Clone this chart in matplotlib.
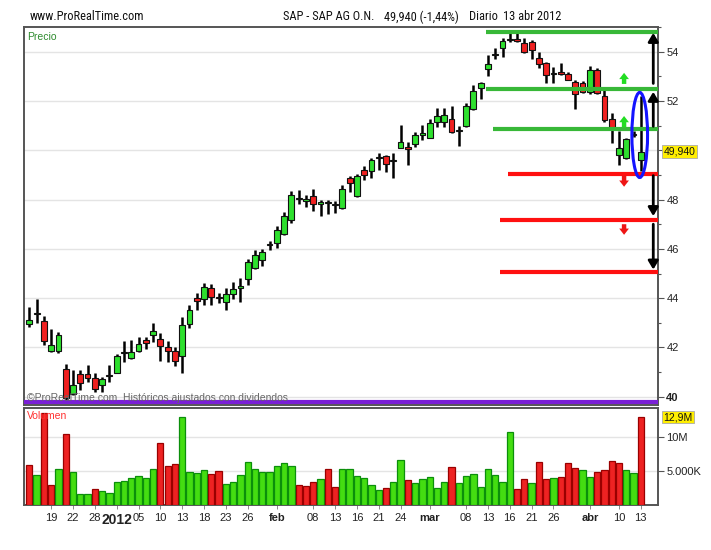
import matplotlib
matplotlib.use('Agg')
import matplotlib.pyplot as plt
from matplotlib import font_manager
from matplotlib.patches import Ellipse
import numpy as np

ttf = font_manager.fontManager.ttflist
names = {f.name for f in ttf}
BASE = 'Liberation Sans' if 'Liberation Sans' in names else 'DejaVu Sans'
NARROW = None
for cand in ['Liberation Sans Narrow', 'Arial Narrow', 'Roboto Condensed',
             'Open Sans Condensed', 'DejaVu Sans Condensed']:
    if cand in names:
        NARROW = cand
        break
NARROW_STRETCH = 'normal'
if NARROW is None:
    for f in ttf:
        if f.stretch in ('condensed', 'semi-condensed') and f.name in (BASE, 'DejaVu Sans', 'Roboto', 'Open Sans', 'Noto Sans'):
            NARROW = f.name
            NARROW_STRETCH = f.stretch
            break
if NARROW is None:
    NARROW = BASE
plt.rcParams['font.family'] = [BASE, 'DejaVu Sans']

# ---------------- data (SAP daily, 14 Dec 2011 - 13 Apr 2012) ----------------
opens = [42.96, 43.35, 43.08, 41.87, 41.87, 41.13, 40.13, 40.91, 40.91, 40.77,
         40.49, 40.90, 40.97, 41.78, 41.57, 41.87, 42.31, 42.51, 42.33, 42.03,
         41.87, 41.64, 42.97, 44.00, 43.97, 44.42, 44.03, 43.86, 44.17, 44.40,
         44.76, 45.23, 45.54, 46.14, 46.22, 46.62, 47.16, 48.02, 47.96, 48.14,
         47.80, 47.87, 47.76, 47.66, 48.88, 48.16, 49.19, 49.15, 49.68, 49.76,
         49.55, 50.10, 50.12, 50.26, 50.63, 50.49, 51.16, 51.14, 51.26, 50.79,
         50.99, 51.66, 52.51, 53.28, 53.85, 54.15, 54.46, 54.51, 54.36, 54.40,
         53.73, 53.55, 53.10, 53.19, 53.08, 52.78, 52.74, 52.38, 53.26, 52.22,
         51.28, 49.80, 49.70, 50.62, 49.60]
highs = [43.63, 43.97, 43.27, 42.77, 42.64, 41.33, 41.07, 41.07, 41.29, 40.96,
         40.80, 41.29, 41.73, 42.27, 42.29, 42.44, 42.44, 43.00, 42.60, 42.27,
         42.00, 43.23, 43.73, 44.20, 44.60, 44.57, 44.20, 44.40, 44.64, 44.80,
         45.57, 45.97, 46.00, 46.31, 46.92, 47.49, 48.34, 48.38, 48.20, 48.41,
         48.00, 47.97, 47.93, 48.60, 48.97, 49.05, 49.38, 49.69, 49.90, 49.80,
         49.90, 51.02, 50.32, 50.73, 51.03, 51.27, 51.70, 51.70, 51.80, 50.99,
         51.90, 52.65, 52.78, 53.86, 54.14, 54.54, 54.74, 54.74, 54.54, 54.47,
         54.00, 53.59, 53.39, 53.53, 53.19, 52.85, 52.82, 53.42, 53.32, 52.45,
         51.50, 50.80, 50.50, 50.78, 52.20]
lows = [42.84, 43.00, 42.11, 41.83, 41.77, 39.87, 40.07, 40.27, 40.60, 40.20,
        40.20, 40.60, 40.96, 41.40, 41.53, 41.80, 41.93, 42.24, 41.47, 41.43,
        41.24, 40.97, 42.80, 43.53, 43.73, 43.73, 43.80, 43.54, 43.95, 43.86,
        44.55, 45.19, 45.30, 45.95, 46.04, 46.58, 47.03, 47.80, 47.70, 47.53,
        47.35, 47.43, 47.46, 47.63, 48.30, 48.10, 48.81, 48.88, 49.19, 49.10,
        48.88, 50.08, 49.41, 50.12, 50.42, 50.49, 50.93, 50.93, 50.72, 50.18,
        50.96, 51.64, 52.07, 53.01, 53.69, 53.80, 54.40, 54.40, 53.93, 53.69,
        53.32, 52.74, 52.72, 53.05, 52.83, 51.66, 52.31, 52.28, 52.28, 51.16,
        50.28, 49.40, 49.66, 50.55, 49.14]
closes = [43.11, 43.40, 42.25, 42.11, 42.49, 39.96, 40.49, 40.57, 40.77, 40.33,
          40.73, 40.85, 41.67, 41.80, 41.83, 42.16, 42.20, 42.67, 42.07, 41.84,
          41.44, 42.93, 43.51, 43.87, 44.44, 44.04, 44.00, 44.18, 44.37, 44.49,
          45.46, 45.77, 45.86, 46.20, 46.78, 47.32, 48.18, 48.07, 48.02, 47.84,
          47.89, 47.88, 47.84, 48.43, 48.68, 48.95, 49.01, 49.62, 49.70, 49.46,
          49.60, 50.32, 50.04, 50.63, 50.66, 51.09, 51.39, 51.41, 50.76, 50.82,
          51.80, 52.41, 52.72, 53.49, 53.88, 54.45, 54.50, 54.43, 54.00, 54.07,
          53.50, 53.05, 53.15, 53.08, 52.85, 52.28, 52.38, 53.26, 52.34, 51.21,
          50.89, 50.10, 50.45, 50.67, 49.94]
volumes_m = [5.85, 4.45, 13.5, 2.9, 5.35, 10.4, 4.8, 1.6, 1.6, 2.4,
             2.0, 1.75, 3.4, 3.55, 3.95, 4.3, 3.95, 5.35, 9.15, 5.7,
             5.95, 12.95, 4.8, 4.65, 5.2, 4.55, 5.05, 3.15, 3.4, 4.45,
             6.3, 5.35, 4.8, 4.8, 5.7, 6.1, 5.7, 2.9, 2.75, 3.4,
             3.8, 5.25, 2.65, 5.25, 5.25, 4.2, 4.0, 3.0, 2.15, 2.55,
             3.4, 6.55, 3.6, 3.3, 3.85, 4.1, 2.55, 3.4, 5.65, 3.3,
             4.2, 4.6, 2.65, 5.25, 4.35, 3.4, 10.75, 2.3, 3.75, 3.3,
             6.35, 3.75, 4.0, 4.1, 6.15, 5.45, 5.1, 4.1, 4.85, 5.1,
             6.5, 6.15, 5.1, 4.75, 12.9]

tick_idx = [3, 6, 9, 12, 15, 18, 21, 24, 27, 30, 34, 39, 42, 45, 48, 51,
            55, 60, 63, 66, 69, 72, 77, 81, 84]
tick_labels = ['19', '22', '28', '2012', '05', '10', '13', '18', '23', '26', 'feb',
               '08', '13', '16', '21', '24', 'mar', '08', '13', '16', '21', '26',
               'abr', '10', '13']

# drawn annotation levels
resist_levels = [54.80, 52.50, 50.85]
resist_start = [62.7, 62.7, 63.7]
support_levels = [49.02, 47.17, 45.08]
support_start = [65.8, 64.7, 64.7]

# ---------------- figure ----------------
W, H = 711, 550
fig = plt.figure(figsize=(W / 100, H / 100), dpi=100)
fig.patch.set_facecolor('white')


def rect(l, t, r, b):
    return [l / W, 1 - b / H, (r - l) / W, (b - t) / H]


axp = fig.add_axes(rect(24, 26.5, 658, 405))
axv = fig.add_axes(rect(24, 408, 658, 505))

n = len(closes)
x = np.arange(n)
o = np.array(opens); c = np.array(closes)
hi = np.array(highs); lo = np.array(lows)
up = c >= o

GREEN = '#2ee02e'
RED = '#f02020'

axp.vlines(x, lo, hi, color='black', linewidth=1.8, zorder=2)
body_b = np.minimum(o, c)
body_h = np.maximum(np.abs(c - o), 0.05)
axp.bar(x, body_h, bottom=body_b, width=0.8,
        color=np.where(up, GREEN, RED), edgecolor='#111111', linewidth=0.8, zorder=3)

XL = (-0.73, 86.36)
axp.set_xlim(*XL)
axp.set_ylim(39.667, 55.02)
for yv in range(40, 56, 2):
    axp.axhline(yv, color='#e4e4e4', lw=1.0, zorder=0)

# purple base line
axp.axhline(39.79, color='#7a1fd6', lw=3.0, zorder=4)

# annotation levels
for lv, st in zip(resist_levels, resist_start):
    axp.hlines(lv, st, XL[1], color='#38b838', lw=3.0, zorder=5)
for lv, st in zip(support_levels, support_start):
    axp.hlines(lv, st, XL[1], color='#ff1010', lw=3.0, zorder=5)

ARW = 'simple,head_length=0.45,head_width=0.7,tail_width=0.32'
for y0, y1 in [(52.69, 53.14), (50.93, 51.39)]:
    axp.annotate('', xy=(81.7, y1), xytext=(81.7, y0),
                 arrowprops=dict(arrowstyle=ARW, color='#22dd22', lw=0, shrinkA=0, shrinkB=0), zorder=6)
for y0, y1 in [(48.97, 48.52), (47.00, 46.57)]:
    axp.annotate('', xy=(81.7, y1), xytext=(81.7, y0),
                 arrowprops=dict(arrowstyle=ARW, color='#ee1515', lw=0, shrinkA=0, shrinkB=0), zorder=6)

# black vertical arrows
for y0, y1 in [(52.71, 54.76), (50.97, 52.37), (48.97, 47.33), (47.00, 45.16)]:
    axp.annotate('', xy=(85.71, y1), xytext=(85.71, y0),
                 arrowprops=dict(arrowstyle='-|>,head_length=0.5,head_width=0.3',
                                 color='black', lw=2.0, shrinkA=0, shrinkB=0), zorder=6)

# blue ellipse
axp.add_patch(Ellipse((83.85, 50.62), width=2.15, height=3.45, fill=False,
                      edgecolor='#1414ff', lw=2.2, zorder=7))

# axes styling
for ax in (axp, axv):
    for s in ax.spines.values():
        s.set_color('#555555')
        s.set_linewidth(1.4)
    ax.set_facecolor('white')

axp.set_xticks([])
axp.yaxis.tick_right()
axp.set_yticks(range(40, 56, 2))
lbls = ['' if v == 50 else str(v) for v in range(40, 56, 2)]
axp.set_yticklabels(lbls, fontsize=8, color='#222222')
axp.get_yticklabels()[0].set_fontweight('bold')
axp.set_yticks(range(41, 56, 2), minor=True)
axp.tick_params(axis='y', which='major', length=4, width=0.8, color='#555555', pad=2)
axp.tick_params(axis='y', which='minor', length=2, width=0.8, color='#555555')

axp.text(0.005, 0.985, 'Precio', transform=axp.transAxes, fontsize=7.5,
         color='#2e8b2e', va='top', ha='left')
axp.text(0.005, 0.004, '©ProRealTime.com  Históricos ajustados con dividendos',
         transform=axp.transAxes, fontsize=7.5, color='#666666', va='bottom', ha='left', zorder=8)

# current price tag
axp.annotate('49,940', xy=(1.0, 49.94), xycoords=('axes fraction', 'data'),
             xytext=(4, 0), textcoords='offset points', fontsize=7.5, va='center', ha='left',
             annotation_clip=False, color='#111111',
             bbox=dict(boxstyle='square,pad=0.12', fc='#ffee00', ec='#aaaaaa', lw=0.6), zorder=9)

# ---------------- volume ----------------
vol_up = np.concatenate([[False], c[1:] >= c[:-1]])
axv.bar(x, volumes_m, width=0.86, color=np.where(vol_up, '#44dd11', '#ee2222'),
        edgecolor=np.where(vol_up, '#0b8f0b', '#9a0000'), linewidth=0.9, zorder=3)
axv.set_xlim(*XL)
axv.set_ylim(0, 14.25)
for yv in (5, 10):
    axv.axhline(yv, color='#e4e4e4', lw=1.0, zorder=0)
axv.yaxis.tick_right()
axv.set_yticks([5, 10])
axv.set_yticklabels(['5.000K', '10M'], fontsize=8, color='#222222')
axv.tick_params(axis='y', length=4, width=0.8, color='#555555', pad=2)
axv.set_xticks(tick_idx)
axv.set_xticklabels(tick_labels, fontsize=8, color='#222222')
axv.tick_params(axis='x', length=3, width=0.6, color='#777777', pad=2.5)
for t in axv.get_xticklabels():
    if t.get_text() in ('feb', 'mar', 'abr'):
        t.set_fontweight('bold')
    if t.get_text() == '2012':
        t.set_fontweight('bold')
        t.set_fontsize(10)
axv.text(0.005, 0.97, 'Volumen', transform=axv.transAxes, fontsize=7.5,
         color='#ff3030', va='top', ha='left')
axv.annotate('12,9M', xy=(1.0, 12.9), xycoords=('axes fraction', 'data'),
             xytext=(4, 0), textcoords='offset points', fontsize=7.5, va='center', ha='left',
             annotation_clip=False, color='#111111',
             bbox=dict(boxstyle='square,pad=0.12', fc='#ffee00', ec='#aaaaaa', lw=0.6), zorder=9)

# ---------------- header ----------------
renderer = fig.canvas.get_renderer()
HFAM = [NARROW, BASE]
probe = fig.text(0, 0, 'www.ProRealTime.com', fontsize=9.0, family=HFAM, fontstretch=NARROW_STRETCH)
pw = probe.get_window_extent(renderer).width
probe.remove()
HSIZE = min(10.0, 9.0 * 115.0 / pw) if pw > 0 else 9.0

fig.text(30 / W, 1 - 17 / H, 'www.ProRealTime.com', fontsize=HSIZE, va='center', ha='left',
         color='#111111', family=HFAM, fontstretch=NARROW_STRETCH)

# right header laid out piece by piece with fixed gaps
header_parts = [('SAP - SAP AG O.N.', 10), ('49,940 (-1,44%)', 10), ('Diario', 5), ('13 abr 2012', 0)]
xcur = 283.0
for s, gap in header_parts:
    t = fig.text(xcur / W, 1 - 17 / H, s, fontsize=HSIZE, va='center', ha='left',
                 color='#111111', family=HFAM, fontstretch=NARROW_STRETCH)
    xcur += t.get_window_extent(renderer).width + gap

fig.savefig('out.png', dpi=100)
